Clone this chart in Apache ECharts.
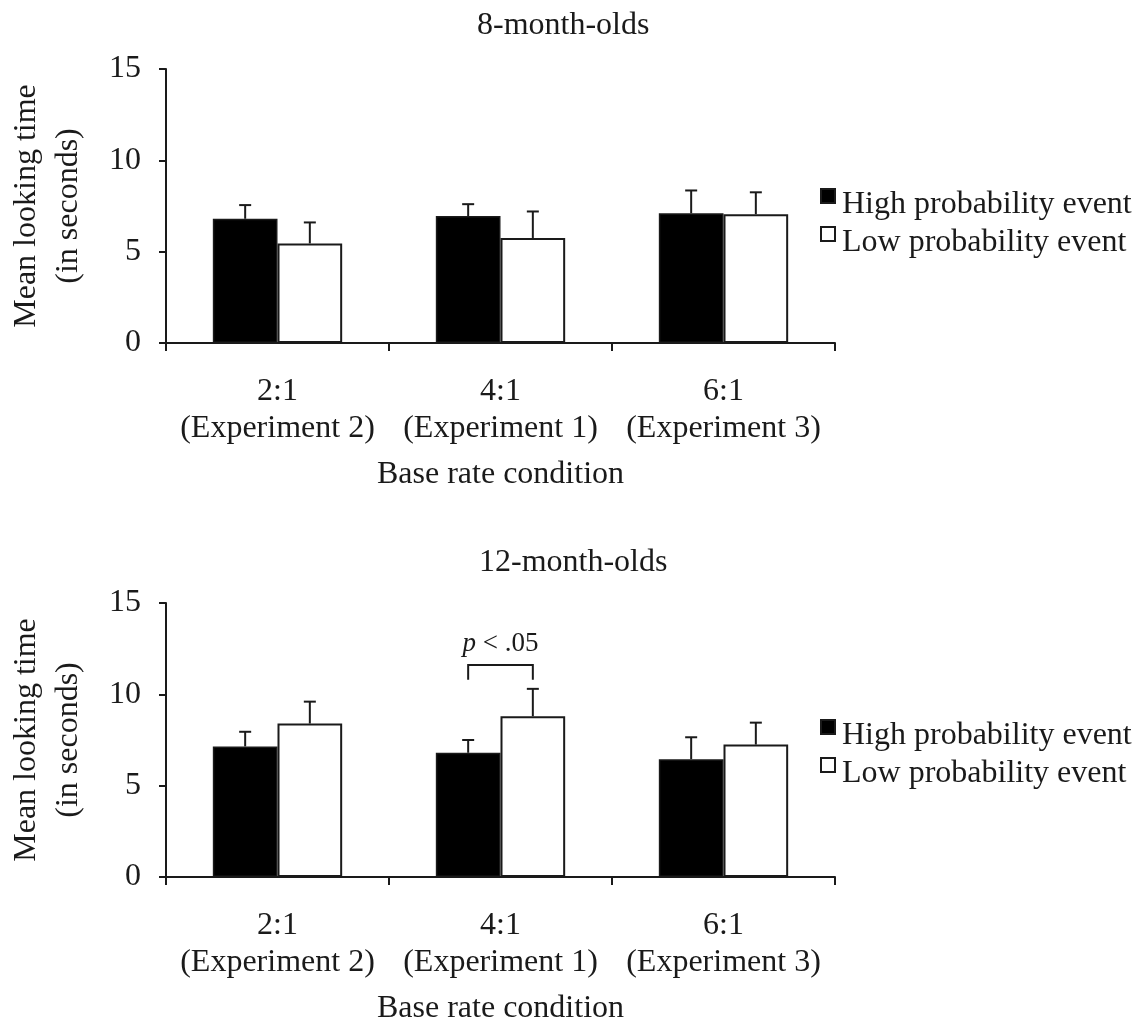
<!DOCTYPE html>
<html>
<head>
<meta charset="utf-8">
<script src="https://cdn.jsdelivr.net/npm/echarts/dist/echarts.min.js"></script>
<style>
  html, body { margin: 0; padding: 0; background: #fff; }
  #chart { width: 1146px; height: 1021px; }
</style>
</head>
<body>
<div id="chart"></div>
<script>
// 数据
var categories = ['2:1\n(Experiment 2)', '4:1\n(Experiment 1)', '6:1\n(Experiment 3)'];
var yTicks = [0, 5, 10, 15];

// 8-month-olds
var high8 = [6.8, 6.95, 7.1];
var low8 = [5.45, 5.75, 7.05];
var high8Se = [0.75, 0.65, 1.25];
var low8Se = [1.15, 1.45, 1.2];

// 12-month-olds
var high12 = [7.15, 6.8, 6.45];
var low12 = [8.4, 8.8, 7.25];
var high12Se = [0.8, 0.7, 1.2];
var low12Se = [1.2, 1.5, 1.2];

// significance bracket (category index, bracket level, leg bottom)
var sigBracket = [[1, 11.6, 10.8]];

var FONT = '"Liberation Serif", "Times New Roman", serif';
var FS = 32;
var INK = '#1a1a1a';
var BAR_PCT = 0.29;

var myChart = echarts.init(document.getElementById('chart'));

function errData(means, se) {
  return means.map(function (m, i) { return [i, m, m + se[i]]; });
}

// error bar whisker, side = -1 left bar, 1 right bar
function errorRenderer(side) {
  return function (params, api) {
    var band = api.size([1, 0])[0];
    var off = side * band * BAR_PCT / 2;
    var p0 = api.coord([api.value(0), api.value(1)]);
    var p1 = api.coord([api.value(0), api.value(2)]);
    var x = p0[0] + off;
    var st = { stroke: INK, lineWidth: 2 };
    return {
      type: 'group',
      children: [
        { type: 'line', shape: { x1: x, y1: p0[1], x2: x, y2: p1[1] }, style: st },
        { type: 'line', shape: { x1: x - 6, y1: p1[1], x2: x + 6, y2: p1[1] }, style: st }
      ]
    };
  };
}

function bracketRenderer(params, api) {
  var band = api.size([1, 0])[0];
  var off = band * BAR_PCT / 2;
  var top = api.coord([api.value(0), api.value(1)]);
  var leg = api.coord([api.value(0), api.value(2)]);
  var xl = top[0] - off, xr = top[0] + off;
  var st = { stroke: INK, lineWidth: 2, fill: null };
  return {
    type: 'group',
    children: [
      { type: 'polyline', shape: { points: [[xl, leg[1]], [xl, top[1]], [xr, top[1]], [xr, leg[1]]] }, style: st },
      {
        type: 'text',
        x: top[0], y: top[1] - 8,
        style: {
          text: '{i|p} < .05',
          rich: { i: { fontStyle: 'italic', fontFamily: FONT, fontSize: 27, fill: INK } },
          fontFamily: FONT, fontSize: 27, fill: INK,
          align: 'center', verticalAlign: 'bottom'
        }
      }
    ]
  };
}

function xAxisFor(gi) {
  return {
    type: 'category',
    gridIndex: gi,
    data: categories,
    boundaryGap: true,
    name: 'Base rate condition',
    nameLocation: 'middle',
    nameGap: 116,
    nameTextStyle: { fontFamily: FONT, fontSize: FS, color: INK },
    axisLine: { lineStyle: { color: INK, width: 2 } },
    axisTick: { show: true, length: 8, lineStyle: { color: INK, width: 2 } },
    axisLabel: { interval: 0, margin: 30, lineHeight: 37, fontFamily: FONT, fontSize: FS, color: INK }
  };
}

function yAxisFor(gi) {
  return {
    type: 'value',
    gridIndex: gi,
    min: yTicks[0],
    max: yTicks[yTicks.length - 1],
    interval: 5,
    name: 'Mean looking time\n(in seconds)',
    nameLocation: 'middle',
    nameRotate: 90,
    nameGap: 76,
    nameTextStyle: { fontFamily: FONT, fontSize: FS, color: INK, lineHeight: 42 },
    axisLine: { show: true, lineStyle: { color: INK, width: 2 } },
    axisTick: { show: true, length: 7, lineStyle: { color: INK, width: 2 } },
    axisLabel: { margin: 25, fontFamily: FONT, fontSize: FS, color: INK },
    splitLine: { show: false }
  };
}

function legendFor(top) {
  return {
    orient: 'vertical',
    left: 820,
    top: top,
    padding: 0,
    itemGap: -12,
    itemWidth: 14,
    itemHeight: 14,
    icon: 'rect',
    selectedMode: false,
    data: ['High probability event', 'Low probability event'],
    formatter: function (name) { return '{t|' + name + '}'; },
    textStyle: {
      fontFamily: FONT, fontSize: FS, color: INK,
      rich: { t: { fontFamily: FONT, fontSize: FS, color: INK, lineHeight: 22, padding: [18, 0, 0, 2] } }
    }
  };
}

var highStyle = { color: '#000', borderColor: INK, borderWidth: 1.5 };
var lowStyle = { color: '#fff', borderColor: INK, borderWidth: 2 };

function barSeries(name, data, gi, style) {
  return {
    name: name, type: 'bar', xAxisIndex: gi, yAxisIndex: gi,
    data: data, barWidth: (BAR_PCT * 100) + '%', barGap: '0%',
    itemStyle: style, silent: true
  };
}

function errSeries(data, gi, side) {
  return {
    type: 'custom', xAxisIndex: gi, yAxisIndex: gi, z: 5, silent: true,
    data: data, renderItem: errorRenderer(side), encode: { x: 0, y: [1, 2] }
  };
}

var option = {
  backgroundColor: '#fff',
  animation: false,
  title: [
    { text: '8-month-olds', left: 477, top: 10, padding: 0, textStyle: { fontFamily: FONT, fontSize: FS, fontWeight: 'normal', color: INK } },
    { text: '12-month-olds', left: 479, top: 547, padding: 0, textStyle: { fontFamily: FONT, fontSize: FS, fontWeight: 'normal', color: INK } }
  ],
  legend: [legendFor(171), legendFor(702)],
  grid: [
    { left: 166, width: 669, top: 69, height: 274, outerBoundsMode: 'none', containLabel: false },
    { left: 166, width: 669, top: 603, height: 274, outerBoundsMode: 'none', containLabel: false }
  ],
  xAxis: [xAxisFor(0), xAxisFor(1)],
  yAxis: [yAxisFor(0), yAxisFor(1)],
  series: [
    barSeries('High probability event', high8, 0, highStyle),
    barSeries('Low probability event', low8, 0, lowStyle),
    errSeries(errData(high8, high8Se), 0, -1),
    errSeries(errData(low8, low8Se), 0, 1),
    barSeries('High probability event', high12, 1, highStyle),
    barSeries('Low probability event', low12, 1, lowStyle),
    errSeries(errData(high12, high12Se), 1, -1),
    errSeries(errData(low12, low12Se), 1, 1),
    {
      type: 'custom', xAxisIndex: 1, yAxisIndex: 1, z: 6, silent: true,
      data: sigBracket, renderItem: bracketRenderer, encode: { x: 0, y: [1, 2] }
    }
  ]
};

myChart.setOption(option);
window.addEventListener('resize', function () {
  myChart.resize();
});
</script>
</body>
</html>
